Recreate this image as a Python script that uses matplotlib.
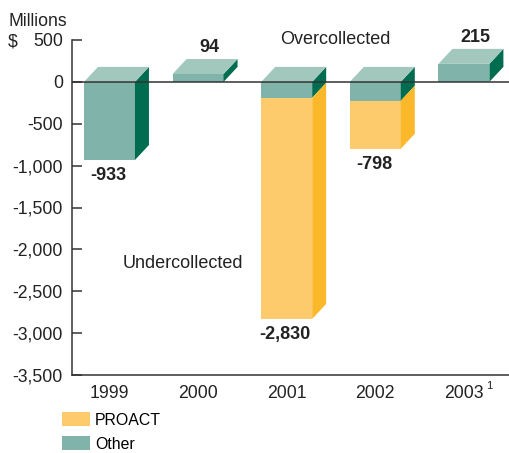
import matplotlib
matplotlib.use('Agg')
import matplotlib.pyplot as plt
from matplotlib.patches import Polygon, Patch

plt.rcParams['font.family'] = ['Liberation Sans', 'DejaVu Sans']

years = ['1999', '2000', '2001', '2002', '2003']
other = [-933, 94, -190, -225, 215]
proact = [0, 0, -2640, -573, 0]
totals = [-933, 94, -2830, -798, 215]
total_labels = ['-933', '94', '-2,830', '-798', '215']
yticks = [500, 0, -500, -1000, -1500, -2000, -2500, -3000, -3500]
ytick_labels = ['500', '0', '-500', '-1,000', '-1,500', '-2,000', '-2,500', '-3,000', '-3,500']

teal_front = '#80b3a9'
teal_top = '#a2c8bd'
teal_side = '#006c50'
yel_front = '#fdca6c'
yel_side = '#fbb82a'
dark = '#333333'

fig = plt.figure(figsize=(5.10, 4.53), dpi=100)
ax = fig.add_axes([72/510, 78/453, 438/510, 335/453])
ax.set_xlim(-0.423, 4.52)
ax.set_ylim(-3500, 500)

x = list(range(len(years)))
w = 0.575
dx = 0.158
dy = 179

ax.bar(x, other, width=w, color=teal_front, zorder=2, linewidth=0)
ax.bar(x, proact, bottom=other, width=w, color=yel_front, zorder=2, linewidth=0)

for i in x:
    o, p = other[i], proact[i]
    x0, x1 = i - w/2, i + w/2
    segs = [(min(0, o), max(0, o), teal_side)]
    if p != 0:
        segs.append((o + p, o, yel_side))
    for lo, hi, c in segs:
        ax.add_patch(Polygon([(x1, lo), (x1 + dx, lo + dy), (x1 + dx, hi + dy), (x1, hi)],
                             closed=True, facecolor=c, edgecolor='none', zorder=2))
    top = max(0, o)
    ax.add_patch(Polygon([(x0, top), (x0 + dx, top + dy), (x1 + dx, top + dy), (x1, top)],
                         closed=True, facecolor=teal_top, edgecolor='none', zorder=2))

ax.axhline(0, color=dark, lw=1.1, zorder=3)

for i in x:
    t = totals[i]
    if t >= 0:
        ax.annotate(total_labels[i], (i, max(t, 0)), xytext=(8, 19), textcoords='offset points',
                    ha='center', va='center', fontsize=13, fontweight='bold', color='#222222')
    else:
        ax.annotate(total_labels[i], (i, t), xytext=(-1, -11.5), textcoords='offset points',
                    ha='center', va='center', fontsize=13, fontweight='bold', color='#222222')

for s in ['top', 'right']:
    ax.spines[s].set_visible(False)
for s in ['left', 'bottom']:
    ax.spines[s].set_color(dark)
    ax.spines[s].set_linewidth(1.1)

ax.set_yticks(yticks)
ax.set_yticklabels(ytick_labels)
ax.tick_params(axis='y', direction='in', length=7.5, width=1.1, color=dark, labelsize=12.7, pad=6.5, labelcolor='#222222')
ax.set_xticks(x)
ax.set_xticklabels(years)
ax.tick_params(axis='x', length=0, labelsize=12.7, pad=7, labelcolor='#222222')

fig.text(8/510, 1 - 26/453, 'Millions', fontsize=12.7, color='#222222', va='baseline')
fig.text(8/510, 1 - 46/453, '$', fontsize=12.7, color='#222222', va='baseline')
fig.text(486/510, 1 - 389/453, '1', fontsize=8, color='#222222', va='baseline')
fig.text(335/510, 1 - 39/453, 'Overcollected', fontsize=13, color='#222222', ha='center', va='center')
fig.text(183/510, 1 - 263/453, 'Undercollected', fontsize=13, color='#222222', ha='center', va='center')

handles = [Patch(facecolor=yel_front, edgecolor='none', label='PROACT'),
           Patch(facecolor=teal_front, edgecolor='none', label='Other')]
fig.legend(handles=handles, loc='upper left', bbox_to_anchor=(62/510, 1 - 412/453),
           frameon=False, fontsize=11.4, handlelength=1.75, handleheight=1.0,
           handletextpad=0.35, labelspacing=0.55, borderpad=0, borderaxespad=0)

fig.savefig('out.png', dpi=100)
